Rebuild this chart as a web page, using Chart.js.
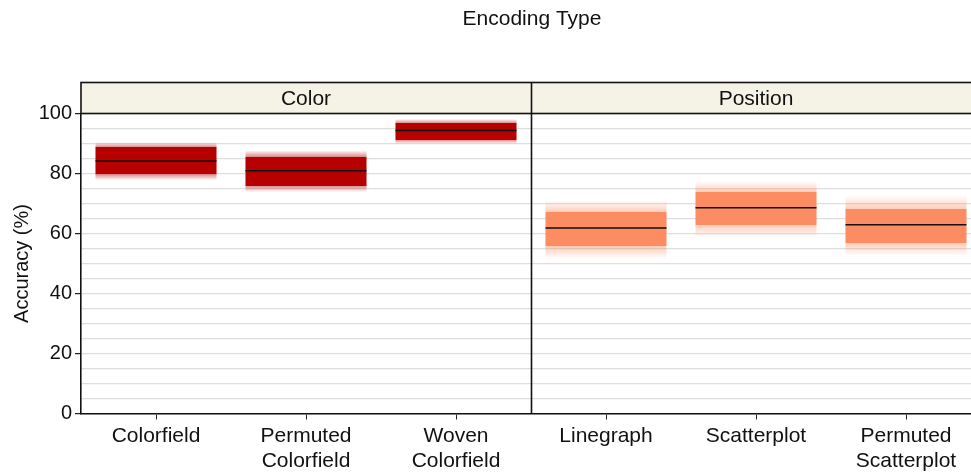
<!DOCTYPE html>
<html>
<head>
<meta charset="utf-8">
<script src="https://cdn.jsdelivr.net/npm/chart.js@4/dist/chart.umd.min.js"></script>
<style>
  html, body { margin: 0; padding: 0; background: #fff; overflow: hidden; }
  #wrap { width: 971px; height: 472px; overflow: hidden; position: relative; }
  canvas { display: block; }
</style>
</head>
<body>
<div id="wrap"><canvas id="c" width="990" height="472"></canvas></div>
<script>
// Encoding conditions and their facet group
const categories = ['Colorfield', ['Permuted', 'Colorfield'], ['Woven', 'Colorfield'],
                    'Linegraph', 'Scatterplot', ['Permuted', 'Scatterplot']];
const groups = ['Color', 'Color', 'Color', 'Position', 'Position', 'Position'];

// Accuracy (%) per condition: median, solid interval, faded outer interval
const median    = [84.2, 80.9, 94.3, 61.8, 68.6, 62.9];
const coreLow   = [79.7, 75.9, 91.2, 55.8, 62.9, 56.8];
const coreHigh  = [88.8, 85.6, 96.8, 67.1, 73.8, 68.0];
const outerLow  = [77.8, 73.8, 89.9, 51.6, 58.8, 52.7];
const outerHigh = [90.4, 87.7, 98.2, 71.0, 77.5, 72.7];

// Y tick labels shown (grid every 5)
const yTickLabels = [0, 20, 40, 60, 80, 100];

const groupColor = { Color: [183, 0, 0], Position: [252, 141, 98] };
const FONT = '"Liberation Sans", Arial, Helvetica, sans-serif';
const rgba = (c, a) => `rgba(${c[0]},${c[1]},${c[2]},${a})`;

function intervalFill(ctx) {
  const i = ctx.dataIndex;
  const c = groupColor[groups[i]];
  const y = ctx.chart.scales.y;
  if (ctx.type !== 'data' || !y) return rgba(c, 1);
  const yTop = y.getPixelForValue(outerHigh[i]);
  const yBot = y.getPixelForValue(outerLow[i]);
  const cTop = y.getPixelForValue(coreHigh[i]);
  const cBot = y.getPixelForValue(coreLow[i]);
  if (![yTop, yBot, cTop, cBot].every(Number.isFinite) || yBot <= yTop) return rgba(c, 1);
  const h = yBot - yTop;
  const a = (cTop - yTop) / h, b = (cBot - yTop) / h;
  const g = ctx.chart.ctx.createLinearGradient(0, yTop, 0, yBot);
  g.addColorStop(0, rgba(c, 0));
  g.addColorStop(a, rgba(c, 0.45));
  g.addColorStop(a, rgba(c, 1));
  g.addColorStop(b, rgba(c, 1));
  g.addColorStop(b, rgba(c, 0.45));
  g.addColorStop(1, rgba(c, 0));
  return g;
}

// Facet strips, figure title, y title and panel divider
const facetDecor = {
  id: 'facetDecor',
  afterDatasetsDraw(chart) {
    const { ctx, chartArea: a, scales: { x } } = chart;
    const stripTop = 82.5, stripBottom = a.top;
    ctx.save();
    const names = [...new Set(groups)];
    const half = (x.getPixelForValue(1) - x.getPixelForValue(0)) / 2;
    const bounds = names.map(n => {
      const idx = groups.map((g, i) => g === n ? i : -1).filter(i => i >= 0);
      return [x.getPixelForValue(idx[0]) - half, x.getPixelForValue(idx[idx.length - 1]) + half];
    });
    // strips
    ctx.fillStyle = '#f5f3e6';
    ctx.fillRect(a.left, stripTop, a.right - a.left, stripBottom - stripTop);
    ctx.strokeStyle = '#111';
    ctx.lineWidth = 1.6;
    ctx.strokeRect(a.left, stripTop, a.right - a.left, stripBottom - stripTop);
    ctx.fillStyle = '#111';
    ctx.font = `21px ${FONT}`;
    ctx.textAlign = 'center';
    ctx.textBaseline = 'middle';
    names.forEach((n, k) => ctx.fillText(n, (bounds[k][0] + bounds[k][1]) / 2, (stripTop + stripBottom) / 2 + 1));
    // panel dividers
    for (let k = 0; k < bounds.length - 1; k++) {
      const xd = Math.round(bounds[k][1]) + 0.5;
      ctx.beginPath();
      ctx.moveTo(xd, stripTop);
      ctx.lineTo(xd, a.bottom);
      ctx.stroke();
    }
    // figure title
    ctx.fillText('Encoding Type', (a.left + 983) / 2, 19);
    // y title
    ctx.font = `20px ${FONT}`;
    ctx.translate(22, (a.top + a.bottom) / 2);
    ctx.rotate(-Math.PI / 2);
    ctx.fillText('Accuracy (%)', 0, 0);
    ctx.restore();
  }
};

new Chart(document.getElementById('c'), {
  data: {
    labels: categories,
    datasets: [
      {
        type: 'bar',
        data: outerLow.map((lo, i) => [lo, outerHigh[i]]),
        backgroundColor: intervalFill,
        borderWidth: 0,
        barPercentage: 0.807,
        categoryPercentage: 1,
        grouped: false,
        order: 2
      },
      {
        type: 'line',
        data: median,
        showLine: false,
        pointStyle: 'line',
        pointRadius: 60.5,
        pointHoverRadius: 60.5,
        borderColor: '#111',
        borderWidth: 1.5,
        pointBorderWidth: 1.5,
        order: 1
      }
    ]
  },
  options: {
    responsive: false,
    animation: false,
    devicePixelRatio: 1,
    events: [],
    layout: { autoPadding: false, padding: { top: 113.5, right: 9, left: 0, bottom: 0 } },
    plugins: { legend: { display: false }, tooltip: { enabled: false }, title: { display: false } },
    scales: {
      x: {
        type: 'category',
        offset: true,
        afterFit(s) { s.height = 58.5; },
        grid: { offset: false, drawOnChartArea: false, drawTicks: true, tickLength: 6, tickColor: '#222', tickWidth: 1 },
        border: { display: true, color: '#111', width: 1.6 },
        ticks: { color: '#111', font: { family: FONT, size: 21, lineHeight: 1.2 }, padding: 4, maxRotation: 0, autoSkip: false }
      },
      y: {
        min: 0,
        max: 100,
        afterFit(s) { s.width = 81; },
        grid: {
          color: '#dedede',
          lineWidth: 1.2,
          tickLength: 6,
          tickColor: c => (c.tick && yTickLabels.includes(c.tick.value)) ? '#222' : 'rgba(0,0,0,0)'
        },
        border: { display: true, color: '#111', width: 1.6 },
        ticks: {
          stepSize: 5,
          autoSkip: false,
          padding: 3,
          color: '#111',
          font: { family: FONT, size: 20 },
          callback: v => yTickLabels.includes(v) ? String(v) : ''
        }
      }
    }
  },
  plugins: [facetDecor]
});
</script>
</body>
</html>
